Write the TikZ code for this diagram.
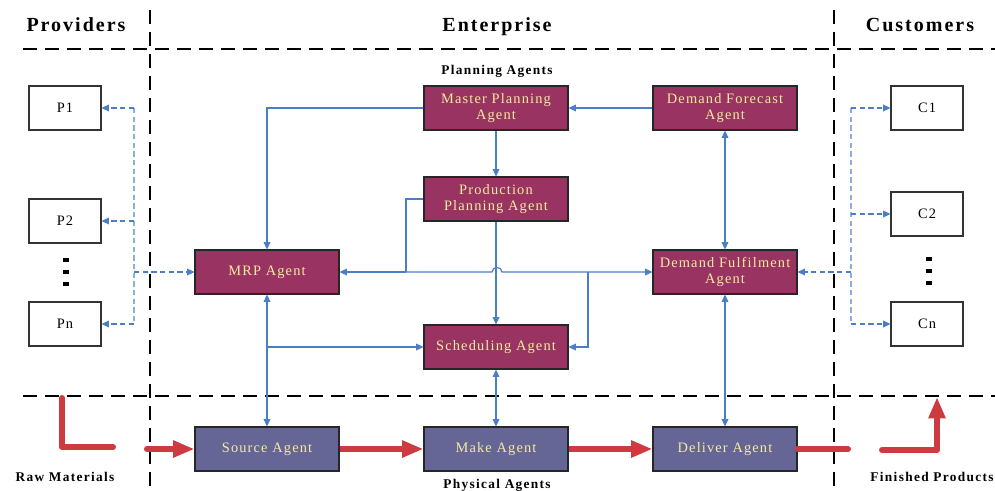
\documentclass[tikz,border=0pt]{standalone}
\usepackage{fontspec}
\setmainfont{Liberation Serif}
\newfontfamily\wideserif[LetterSpace=8]{Liberation Serif}
\newfontfamily\widetitle[LetterSpace=10]{Liberation Serif}
\usetikzlibrary{arrows.meta}
\definecolor{agentpurple}{RGB}{153,51,98}
\definecolor{physblue}{RGB}{102,102,150}
\definecolor{agenttext}{RGB}{245,235,160}
\definecolor{linkblue}{RGB}{74,126,198}
\definecolor{lightlink}{RGB}{140,175,222}
\definecolor{flowred}{RGB}{205,58,64}
\begin{document}
\begin{tikzpicture}[x=0.75pt,y=-0.75pt,
  agent/.style={draw=black!85, line width=0.8pt, fill=agentpurple, text=agenttext,
    minimum width=108pt, minimum height=33pt, align=center, inner sep=1pt,
    font=\wideserif\fontsize{10.8}{12.5}\selectfont},
  phys/.style={agent, fill=physblue},
  ext/.style={draw=black!80, line width=0.8pt, fill=white, minimum width=54pt,
    minimum height=33pt, font=\wideserif\fontsize{10.8}{12.5}\selectfont},
  title/.style={anchor=base, font=\widetitle\fontsize{15}{17}\selectfont\bfseries},
  sub/.style={anchor=base, font=\widetitle\fontsize{10}{12}\selectfont\bfseries},
  link/.style={draw=linkblue, line width=0.9pt},
  tip/.style={-{Triangle[length=5.5pt,width=5pt]}},
  dtip/.style={{Triangle[length=5.5pt,width=5pt]}-{Triangle[length=5.5pt,width=5pt]}},
  dlink/.style={draw=linkblue, line width=0.9pt, dash pattern=on 4pt off 2.5pt},
  dlight/.style={draw=lightlink, line width=0.9pt, dash pattern=on 4pt off 2.5pt},
  sep/.style={draw=black, line width=1.5pt, dash pattern=on 10.5pt off 6pt},
  flow/.style={draw=flowred, line width=4.5pt},
  flowtip/.style={-{Triangle[length=16pt,width=12pt]}},
  dot/.style={fill=black, inner sep=0pt, minimum width=4.5pt, minimum height=3pt}
]
\useasboundingbox (0,0) rectangle (995,490);

% separators
\draw[sep] (23,49) -- (995,49);
\draw[sep] (23,396) -- (995,396);
\draw[sep] (150,10) -- (150,490);
\draw[sep] (834,10) -- (834,490);

% titles
\node[title] (tprov) at (76,31) {Providers};
\node[title] (tent) at (497,31) {Enterprise};
\node[title] (tcust) at (920,31) {Customers};
\node[sub] (tplan) at (497,74) {Planning Agents};
\node[sub] (tphys) at (497,488) {Physical Agents};
\node[sub] (traw) at (65,481) {Raw Materials};
\node[sub] (tfin) at (932,481) {Finished Products};

% providers / customers
\node[ext] (p1) at (65,108) {P1};
\node[ext] (p2) at (65,221) {P2};
\node[ext] (pn) at (65,324) {Pn};
\node[ext] (c1) at (927,108) {C1};
\node[ext] (c2) at (927,214) {C2};
\node[ext] (cn) at (927,324) {Cn};
\node[dot] (pd1) at (66,260) {};
\node[dot] (pd2) at (66,272) {};
\node[dot] (pd3) at (66,284) {};
\node[dot] (cd1) at (929,259) {};
\node[dot] (cd2) at (929,271) {};
\node[dot] (cd3) at (929,283) {};

% agents
\node[agent] (mpa) at (496,108) {Master Planning\\Agent};
\node[agent] (dfa) at (725,108) {Demand Forecast\\Agent};
\node[agent] (ppa) at (496,199) {Production\\Planning Agent};
\node[agent] (mrp) at (267,272) {MRP Agent};
\node[agent] (dful) at (725,272) {Demand Fulfilment\\Agent};
\node[agent] (sch) at (496,347) {Scheduling Agent};
\node[phys] (src) at (267,449) {Source Agent};
\node[phys] (mak) at (496,449) {Make Agent};
\node[phys] (del) at (725,449) {Deliver Agent};

% planning links
\draw[link,tip] (dfa.west) -- (mpa.east);
\draw[link,tip] (mpa.west) -| (mrp.north);
\draw[link,tip] (mpa.south) -- (ppa.north);
\draw[link,tip] (ppa.south) -- (sch.north);
\coordinate (busl) at (406,272);
\coordinate (busr) at (588,272);
\draw[link] (ppa.west) -| (busl);
\draw[link,tip] (busl) -- (mrp.east);
\draw[link,tip] (busl) -- (492,272) .. controls (492,266) and (502,266) .. (502,272) -- (dful.west);
\draw[link,tip] (busr) |- (sch.east);
\draw[link,dtip] (mrp.south) -- (src.north);
\coordinate (mrpb) at (268,347);
\draw[link,tip] (mrpb) -- (sch.west);
\draw[link,dtip] (sch.south) -- (mak.north);
\draw[link,dtip] (dfa.south) -- (dful.north);
\draw[link,dtip] (dful.south) -- (del.north);

% provider side dashed
\coordinate (pt) at (134,108);
\coordinate (pb) at (134,324);
\coordinate (pm) at (134,272);
\coordinate (p2j) at (134,221);
\draw[dlight] (pt) -- (pb);
\draw[dlink,tip] (pt) -- (p1.east);
\draw[dlink,tip] (p2j) -- (p2.east);
\draw[dlink,tip] (pb) -- (pn.east);
\draw[dlink,tip] (pm) -- (mrp.west);

% customer side dashed
\coordinate (ct) at (851,108);
\coordinate (cb) at (851,324);
\coordinate (cm) at (851,272);
\coordinate (c2j) at (851,214);
\draw[dlight] (ct) -- (cb);
\draw[dlink,tip] (ct) -- (c1.west);
\draw[dlink,tip] (c2j) -- (c2.west);
\draw[dlink,tip] (cb) -- (cn.west);
\draw[dlink,tip] (cm) -- (dful.east);

% material flow
\coordinate (r0) at (62,398);
\coordinate (r1) at (62,447);
\coordinate (r2) at (113,447);
\draw[flow, line cap=round, line join=round] (r0) -- (r1) -- (r2);
\coordinate (r3) at (147,449);
\draw[flow, flowtip, line cap=round] (r3) -- (src.west);
\draw[flow, flowtip] (src.east) -- (mak.west);
\draw[flow, flowtip] (mak.east) -- (del.west);
\coordinate (f1) at (848,449);
\draw[flow, line cap=round] (del.east) -- (f1);
\coordinate (f2) at (882,450);
\coordinate (f3) at (937,450);
\coordinate (f4) at (937,397);
\draw[flow, flowtip, line cap=round, line join=round] (f2) -- (f3) -- (f4);
\end{tikzpicture}
\end{document}
